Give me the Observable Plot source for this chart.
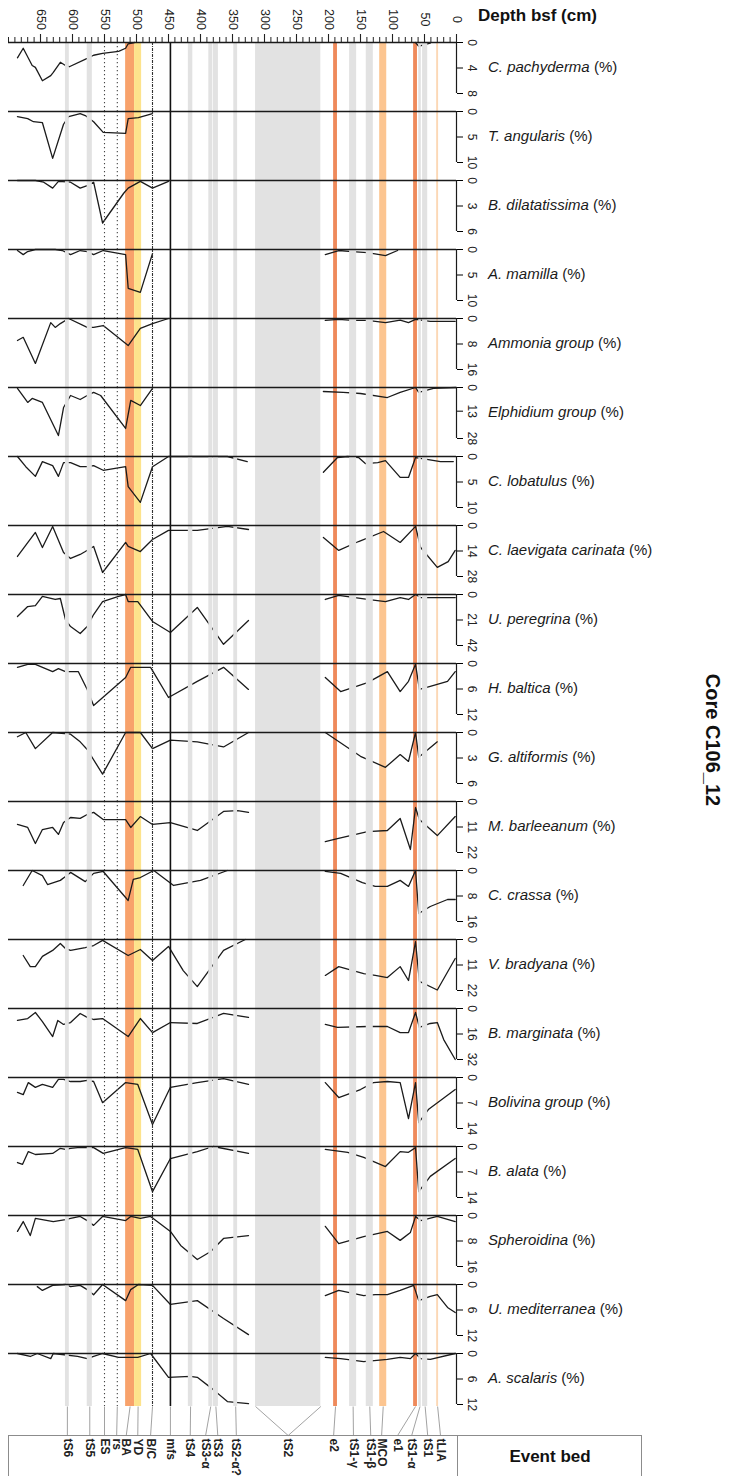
<!DOCTYPE html>
<html><head><meta charset="utf-8">
<script src="https://cdn.jsdelivr.net/npm/d3@7"></script>
<script src="https://cdn.jsdelivr.net/npm/@observablehq/plot@0.6"></script>
<style>
body{margin:0;background:#fff;font-family:"Liberation Sans",Arial,sans-serif;}
#chart{position:relative;width:732px;height:1476px;overflow:hidden;background:#fff;}
#chart svg{position:absolute;left:0;}
.lab{position:absolute;left:488px;font-size:15px;line-height:16px;white-space:nowrap;color:#1a1a1a;}
</style></head><body><div id="chart"></div>
<script>
// ---------- data ----------
const depthMajorTicks = [650,600,550,500,450,400,350,300,250,200,150,100,50,0];
const depthMinorTicks = d3.range(0, 701, 10);

const speciesNames = ["C. pachyderma","T. angularis","B. dilatatissima","A. mamilla","Ammonia group","Elphidium group","C. lobatulus","C. laevigata carinata","U. peregrina","H. baltica","G. altiformis","M. barleeanum","C. crassa","V. bradyana","B. marginata","Bolivina group","B. alata","Spheroidina","U. mediterranea","A. scalaris"];
const axisMax = [8,10,6,10,16,28,10,28,42,12,6,22,16,22,32,14,14,16,12,12];
const axisMid = [4,5,3,5,8,13,5,14,21,6,3,11,8,11,16,7,7,8,6,6];

// [depth cm, %]
const cPachyderma = [[686,2.4],[677,0.9],[663,3.6],[658,3.9],[647,6.0],[634,5.2],[630,4.7],[619,3.1],[611,3.6],[605,3.8],[577,2.5],[567,2.0],[553,1.7],[528,1.4],[517,0.9],[513,0.2],[503,0],[64,0],[59,0.6],[53,0.4],[41,0.1]];
const tAngularis = [[686,1.0],[670,1.4],[661,2.0],[647,2.2],[631,9.2],[614,2.5],[606,1.0],[588,0.4],[580,0.8],[567,2.0],[552,4.1],[517,4.3],[513,1.4],[497,1.2],[475,0.4]];
const bDilatatissima = [[686,0],[658,0],[645,0.2],[631,0.9],[622,0.1],[603,0.2],[588,0.9],[577,0.6],[567,0.2],[553,5.0],[520,1.5],[513,0.9],[494,0.1],[475,0.9],[450,0.1]];
const aMamilla = [[686,0.2],[677,1.0],[670,0.4],[658,0],[627,0],[616,0.2],[603,1.0],[588,0.2],[577,0.4],[567,1.0],[552,0.2],[517,1.0],[513,7.6],[494,8.4],[475,0.8],[205,1.0],[184,0.2],[163,0.4],[139,0.6],[111,1.2],[92,0.2]];
const ammonia = [[686,6.9],[677,5.9],[658,14.1],[634,1.3],[627,2.8],[619,1.6],[606,0],[577,2.8],[567,2.8],[552,2.2],[513,8.5],[494,3.1],[475,1.6],[450,0],[205,0.6],[184,0.3],[163,0.6],[139,0.6],[111,1.3],[88,0.5],[75,1.3],[64,0.3],[41,0.9],[14,0.9],[2,0.9]];
const elphidium = [[686,0.5],[670,8.2],[663,6.0],[647,8.2],[622,26.4],[614,11.0],[603,4.4],[588,6.6],[577,4.4],[567,2.7],[556,4.4],[517,22.5],[509,7.1],[494,9.9],[475,0.5],[208,2.2],[177,2.7],[150,3.3],[108,5.5],[88,2.7],[64,0],[59,2.7],[36,0.5],[0,0]];
const cLobatulus = [[686,0],[673,2.0],[658,3.9],[647,1.0],[631,1.8],[622,3.9],[614,1.2],[603,1.2],[588,2.0],[577,2.0],[567,1.8],[552,2.7],[517,2.0],[513,5.9],[494,9.0],[475,2.0],[450,0],[358,0],[327,1.0],[208,3.1],[186,0.2],[170,0],[153,0.2],[142,1.4],[123,1.2],[111,0.8],[88,4.1],[75,4.1],[64,0.2],[44,0.6],[25,1.0],[5,1.0]];
const cLaevigata = [[686,17.0],[658,3.8],[647,12.1],[631,0.5],[614,14.8],[603,18.1],[588,15.9],[580,14.3],[567,11.5],[553,25.8],[517,9.3],[513,11.5],[494,14.3],[475,7.7],[450,2.7],[405,2.7],[358,0.5],[325,2.2],[208,6.6],[184,13.7],[153,8.8],[114,3.3],[88,9.3],[64,0.5],[56,12.1],[30,23.0],[13,19.8],[2,13.7]];
const uPeregrina = [[686,18.1],[670,9.9],[658,9.1],[647,1.6],[627,4.1],[619,3.3],[611,20.6],[603,26.4],[588,32.1],[577,26.4],[567,16.5],[553,5.8],[528,1.6],[517,0],[513,5.8],[498,5.8],[475,22.2],[447,31.3],[405,10.7],[364,41],[325,21.4],[205,4.1],[184,0.8],[139,4.1],[111,5.8],[88,2.5],[75,4.1],[64,0],[56,2.5],[41,2.5],[2,2.5]];
const hBaltica = [[686,0.9],[670,0.2],[658,0.2],[631,1.9],[622,1.2],[611,1.9],[603,1.9],[591,1.9],[577,6.1],[567,9.9],[517,3.3],[509,0.9],[478,0.9],[450,8.0],[405,4.2],[364,0.9],[325,6.1],[205,3.3],[181,6.6],[139,4.5],[108,1.9],[88,6.6],[75,4.2],[64,0.2],[58,6.1],[41,5.4],[14,4.2],[2,1.9]];
const gAltiformis = [[686,0.5],[673,0],[658,1.9],[631,0],[603,0.2],[588,1.1],[577,2.0],[553,4.9],[517,0],[494,0],[475,1.9],[447,0.9],[405,1.1],[364,1.7],[325,0],[205,0],[150,2.8],[111,4.1],[88,2.6],[75,3.4],[64,0],[59,2.9],[30,1.1]];
const mBarleeanum = [[686,9.9],[670,11.2],[658,18.1],[647,12.1],[631,11.2],[622,14.2],[614,9.1],[603,6.9],[588,7.3],[577,5.6],[567,4.7],[552,7.8],[517,7.8],[509,11.2],[494,6.5],[475,9.9],[447,9.1],[405,12.5],[364,4.3],[342,3.9],[325,4.7],[205,17.3],[186,16.0],[139,13.0],[108,12.5],[88,7.3],[72,20.7],[64,2.6],[58,7.8],[30,14.7],[2,6.5]];
const cCrassa = [[677,4.7],[663,0],[647,1.6],[639,4.4],[619,3.1],[611,1.9],[603,0.6],[580,3.5],[567,0.9],[552,0.3],[513,9.4],[505,2.8],[494,2.2],[473,0],[442,4.7],[400,3.1],[358,0],[205,0.3],[181,0.9],[147,3.8],[127,5.0],[108,5.0],[88,3.1],[75,5.0],[64,0],[59,13.5],[41,11.3],[14,9.1],[2,9.1]];
const vBradyana = [[677,6.9],[666,11.7],[658,11.7],[647,7.3],[631,4.7],[619,1.7],[611,3.9],[603,4.7],[580,3.5],[567,2.6],[553,0.4],[513,6.9],[494,4.3],[475,9.1],[450,3.0],[427,13.4],[405,20.3],[364,4.7],[330,0],[205,15.5],[184,11.7],[145,14.7],[127,15.5],[108,16.4],[88,11.7],[75,17.7],[64,0.9],[58,18.1],[30,21.8],[2,8.2]];
const bMarginata = [[686,7.5],[670,6.3],[658,2.5],[647,8.2],[631,17.6],[623,7.5],[614,10.0],[603,8.8],[588,3.1],[577,5.6],[567,6.9],[553,6.3],[513,17.6],[494,6.3],[475,15.1],[447,8.8],[405,9.4],[364,3.1],[325,5.6],[205,10.0],[186,11.9],[139,11.3],[108,11.3],[88,15.1],[75,15.1],[64,2.5],[58,11.9],[41,9.4],[30,8.8],[20,19.5],[2,32]];
const bolivina = [[686,4.1],[677,4.7],[669,1.4],[658,2.7],[647,1.9],[631,2.7],[622,0.5],[614,0.5],[603,1.1],[588,1.1],[577,0.8],[567,1.1],[553,6.9],[517,1.4],[498,1.9],[475,12.9],[447,2.7],[405,1.4],[364,0.3],[325,1.9],[205,1.4],[184,5.5],[150,3.3],[130,1.4],[108,1.1],[88,1.4],[75,11.3],[64,1.4],[59,12.4],[44,8.8],[2,3.3]];
const bAlata = [[686,4.4],[678,4.9],[669,1.4],[658,2.2],[631,1.9],[619,0.5],[611,0.8],[603,0.5],[592,0.3],[567,0.3],[552,1.9],[517,0.3],[498,0.8],[475,12.4],[447,3.3],[405,1.4],[380,0],[325,1.9],[205,0.8],[170,1.6],[145,3.0],[111,5.5],[88,1.4],[75,1.6],[64,0.3],[59,12.4],[41,8.2],[2,3.3]];
const spheroidina = [[686,5.0],[677,1.9],[666,6.3],[658,0.9],[630,1.9],[611,1.3],[603,0.9],[588,0.3],[577,1.6],[567,3.1],[553,0.3],[517,1.6],[509,0.3],[494,0.9],[478,0.3],[447,5.0],[431,9.4],[405,13.8],[384,11.3],[364,7.2],[325,6.3],[205,3.4],[184,8.8],[145,6.6],[108,5.0],[88,7.8],[72,5.3],[64,0.3],[56,1.6],[30,0.3],[2,1.9]];
const uMediterranea = [[655,0.5],[647,1.4],[631,0.2],[611,0],[603,0.5],[588,0.2],[577,1.2],[567,2.4],[553,0],[517,3.8],[509,1.2],[497,0],[475,0.2],[447,4.7],[405,3.8],[364,8.0],[325,11.8],[205,2.6],[184,1.4],[145,2.6],[127,2.4],[108,2.4],[88,1.4],[67,0.2],[59,3.8],[41,2.8],[30,2.4],[14,5.4],[2,6.6]];
const aScalaris = [[686,0],[666,0.7],[655,0],[634,1.2],[630,0],[592,0.7],[577,1.2],[567,0.7],[553,0],[528,0.9],[498,0.9],[478,0],[450,5.6],[416,5.4],[405,5.6],[380,8.5],[358,11.3],[325,11.8],[205,0.9],[181,1.2],[145,1.9],[108,1.4],[88,0.9],[72,1.2],[64,0],[56,1.2],[41,1.4],[2,0]];

const seriesList = [cPachyderma,tAngularis,bDilatatissima,aMamilla,ammonia,elphidium,cLobatulus,cLaevigata,uPeregrina,hBaltica,gAltiformis,mBarleeanum,cCrassa,vBradyana,bMarginata,bolivina,bAlata,spheroidina,uMediterranea,aScalaris];

// event beds
const bedNames  = ["tS6","tS5","ES","rs","BA","YD","B/C","mfs","tS4","tS3-α","tS3","tS2-α?","tS2","e2","tS1-γ","tS1-β","MCO","e1","tS1-α","tS1","tLIA"];
const bedTop    = [605,569,550,530,503,492,475,447,412,381,372,342,212,186,156,130,109,61,55,45,28];
const bedBase   = [611,577,550,530,517,503,475,447,419,387,380,348,314,192,167,141,120,67,59,53,31];
const bedKind   = ["gray","gray","dot","dot","orange","yellow","dashdot","solid","gray","gray","gray","gray","gray","red","gray","gray","apricot","red","gray","gray","pale"];
const bedLabelAt= [608,573,550,531,516,498,478,447,416,392,373,344,263,192,161,134,117,92,70,45,25];

// ---------- build ----------
const W = 732, PH = 69, T0 = 42, RANGE = 51;
const FONT = "Liberation Sans, Arial, sans-serif";
const fills = {gray:"#e2e2e2", orange:"#f8a26b", yellow:"#fde38c", red:"#ef8a5b", apricot:"#fcc590", pale:"#fcd8b6"};
const beds = bedNames.map((name,i)=>({name, top:bedTop[i], base:bedBase[i], kind:bedKind[i], at:bedLabelAt[i]}));
const underBeds = beds.filter(b => ["orange","yellow","red","apricot","pale"].includes(b.kind));
const grayBeds = beds.filter(b => b.kind === "gray");
const xScale = {domain:[700,0], axis:null};
const chart = document.getElementById("chart");
const baseStyle = {background:"transparent", overflow:"visible", fontFamily:FONT};

function place(svg, top){ svg.style.top = top + "px"; chart.appendChild(svg); }

// top depth axis
place(Plot.plot({
  width:W, height:T0, marginLeft:8, marginRight:276, marginTop:0, marginBottom:0,
  style:baseStyle, x:xScale, y:{domain:[0,42], range:[42,0], axis:null},
  marks:[
    Plot.ruleX(depthMinorTicks, {x:d=>d, y1:()=>0, y2:()=>5, stroke:"#222", strokeWidth:1}),
    Plot.ruleX(depthMajorTicks, {x:d=>d, y1:()=>0, y2:()=>8, stroke:"#222", strokeWidth:1.1}),
    Plot.text(depthMajorTicks, {x:d=>d, y:()=>23, text:d=>String(d), rotate:90, fontSize:12.5, fill:"#222", textAnchor:"middle", lineAnchor:"middle"})
  ]
}), 0);

// panels
seriesList.forEach((data, i) => {
  const top = T0 + PH*i;
  const M = axisMax[i];
  const tickVals = [0, axisMid[i], M];
  const svg = Plot.plot({
    width:W, height: i === seriesList.length-1 ? 53 : PH,
    marginLeft:8, marginRight:276, marginTop:0, marginBottom:0,
    style:baseStyle,
    x:xScale,
    y:{domain:[0,M], range:[0,RANGE], axis:"right", ticks:tickVals, tickSize:6, tickFormat:()=>"", label:null},
    color:{type:"identity"},
    marks:[
      Plot.rect(underBeds, {x1:"base", x2:"top", fill:b=>fills[b.kind]}),
      Plot.line(data, {x:d=>d[0], y:d=>d[1], z:d=>d[0]>260?"lower":"upper", stroke:"#1b1b1b", strokeWidth:1.3, strokeLinejoin:"round"}),
      Plot.rect(grayBeds, {x1:"base", x2:"top", fill:fills.gray}),
      Plot.ruleX(beds.filter(b=>b.kind==="dot"), {x:"top", stroke:"#444", strokeWidth:1.1, strokeDasharray:"1.3,2.7"}),
      Plot.ruleX(beds.filter(b=>b.kind==="dashdot"), {x:"top", stroke:"#333", strokeWidth:1.1, strokeDasharray:"3,1,1,1"}),
      Plot.ruleX(beds.filter(b=>b.kind==="solid"), {x:"top", stroke:"#111", strokeWidth:1.6}),
      Plot.ruleY([0], {stroke:"#1a1a1a", strokeWidth:1.5}),
      Plot.ruleX([0], {y1:()=>0, y2:()=>M, stroke:"#1a1a1a", strokeWidth:1.2}),
      Plot.text(tickVals, {x:()=>0, y:d=>d, dx:15, text:d=>String(d), rotate:90, fontSize:12, fill:"#222", textAnchor:"middle", lineAnchor:"middle"})
    ]
  });
  place(svg, top);
  const lab = document.createElement("div");
  lab.className = "lab";
  lab.style.top = (top + 17) + "px";
  lab.innerHTML = "<i>" + speciesNames[i] + "</i> (%)";
  chart.appendChild(lab);
});

// event bed box
const box = document.createElement("div");
box.style.cssText = "position:absolute;left:8px;top:1435px;width:634px;height:60px;border:1px solid #8c8c8c;box-sizing:border-box;";
chart.appendChild(box);
const div2 = document.createElement("div");
div2.style.cssText = "position:absolute;left:457px;top:1435px;width:0;height:45px;border-left:1px solid #8c8c8c;";
chart.appendChild(div2);
const ev = document.createElement("div");
ev.style.cssText = "position:absolute;left:458px;width:184px;top:1447px;text-align:center;font-weight:bold;font-size:17px;color:#111;";
ev.textContent = "Event bed";
chart.appendChild(ev);

// connectors + labels
const connectors = [];
beds.forEach(b => {
  if (b.name === "tS2") { connectors.push({from:b.base, to:b.at}); connectors.push({from:b.top, to:b.at}); }
  else connectors.push({from:(b.top+b.base)/2, to:b.at});
});
place(Plot.plot({
  width:W, height:70, marginLeft:8, marginRight:276, marginTop:0, marginBottom:0,
  style:baseStyle, x:xScale, y:{domain:[0,1], range:[0,29], axis:null},
  marks:[
    Plot.link(connectors, {x1:"from", x2:"to", y1:()=>0, y2:()=>1, stroke:"#8a8a8a", strokeWidth:0.8}),
    Plot.text(beds, {x:"at", y:()=>1, dy:3, text:"name", rotate:90, textAnchor:"start", lineAnchor:"middle", fontWeight:"bold", fontSize:12, fill:"#222"})
  ]
}), 1406);

// titles
const dt = document.createElement("div");
dt.style.cssText = "position:absolute;left:478px;top:6px;font-weight:bold;font-size:17px;color:#111;white-space:nowrap;";
dt.textContent = "Depth bsf (cm)";
chart.appendChild(dt);
const core = document.createElement("div");
core.style.cssText = "position:absolute;left:712px;top:740px;transform:translate(-50%,-50%) rotate(90deg);font-weight:bold;font-size:20px;color:#111;white-space:nowrap;";
core.textContent = "Core C106_12";
chart.appendChild(core);
</script></body></html>
